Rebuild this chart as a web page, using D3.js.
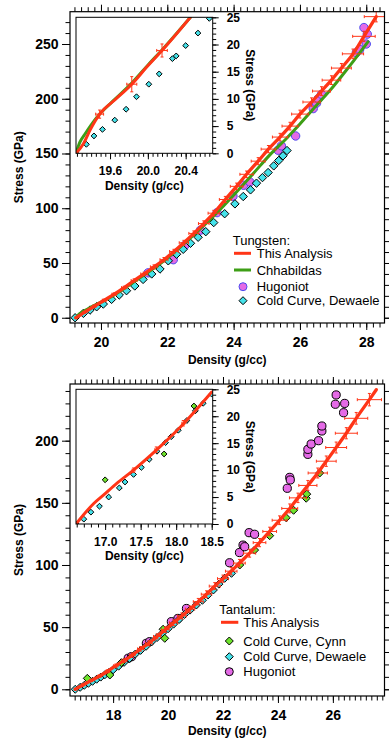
<!DOCTYPE html>
<html>
<head>
<meta charset="utf-8">
<script src="https://cdn.jsdelivr.net/npm/d3@7"></script>
<style>
  body { margin: 0; background: #fff; }
  svg { display: block; }
  text { font-family: "Liberation Sans", Arial, Helvetica, sans-serif; fill: #000; }
</style>
</head>
<body>
<svg id="chart" width="389" height="738"></svg>
<script>
// ---------- Tungsten (top panel) ----------
// [density, stress, density error, stress error]
const tungstenFit = [
  [19.25, 0, 0.03, 0.5], [19.5, 5, 0.04, 0.8], [19.8, 10.5, 0.05, 1], [20.1, 16, 0.06, 1],
  [20.4, 21.5, 0.07, 1.2], [20.7, 27.5, 0.08, 1.3], [21.0, 34, 0.09, 1.5], [21.3, 40, 0.1, 1.6],
  [21.6, 46.5, 0.11, 1.8], [21.9, 53, 0.12, 2], [22.2, 60.5, 0.13, 2], [22.5, 68.5, 0.14, 2.2],
  [22.8, 77, 0.15, 2.3], [23.1, 86, 0.16, 2.5], [23.4, 95.5, 0.17, 2.6], [23.75, 108, 0.18, 2.8],
  [24.09, 120, 0.19, 3], [24.39, 131, 0.2, 3], [24.74, 143, 0.21, 3.2], [25.05, 154, 0.22, 3.3],
  [25.4, 165, 0.23, 3.4], [25.7, 175, 0.24, 3.5], [26.0, 186, 0.25, 3.6], [26.35, 197, 0.26, 3.8],
  [26.65, 207, 0.27, 4], [26.95, 217, 0.28, 4], [27.25, 228, 0.3, 4.2], [27.6, 241, 0.32, 4.4],
  [27.93, 257, 0.34, 4.6], [28.3, 275, 0.36, 4.8]
];
const tungstenChhabildas = [
  [19.25, 0], [19.35, 3.5], [19.6, 8], [20.3, 19], [21.1, 35], [21.9, 52], [22.7, 73],
  [23.5, 96], [24.0, 112], [24.6, 132], [25.1, 149], [25.6, 164], [26.0, 177], [26.5, 194],
  [27.0, 211], [27.5, 230], [28.05, 252]
];
const tungstenHugoniot = [
  [21.42, 41], [22.18, 53], [22.53, 66], [23.0, 80], [23.5, 96], [23.98, 111], [24.3, 121],
  [24.49, 124], [25.34, 153], [25.44, 157], [25.87, 166], [26.4, 191], [26.5, 196], [26.55, 200],
  [26.65, 204], [27.7, 242], [27.8, 245], [28.0, 250], [28.03, 259], [27.93, 265]
];
const tungstenDewaele = [
  [19.22, 0], [19.47, 4], [19.67, 7], [19.87, 10], [20.07, 12.5], [20.32, 16.8], [20.55, 20.8],
  [20.77, 24.7], [21.02, 29], [21.27, 35], [21.53, 40], [21.78, 44.5], [22.03, 52], [22.28, 58],
  [22.48, 62.5], [22.7, 68], [22.93, 73.5], [23.16, 78.6], [23.4, 86.9], [23.73, 95], [24.04, 104],
  [24.29, 110.7], [24.51, 116.8], [24.69, 122.9], [24.87, 128], [25.04, 132.6], [25.21, 138.7],
  [25.36, 143.6], [25.49, 147.9], [25.61, 152.7]
];
const tungstenInsetFit = [
  [19.24, 0], [19.32, 1.8], [19.39, 4.3], [19.49, 7.2], [19.65, 9.8], [19.83, 12.7],
  [19.99, 15.9], [20.15, 18.9], [20.45, 25]
];
const tungstenInsetErr = [[19.49, 7.2, 0.042, 0.75], [19.83, 12.7, 0.053, 1.4], [20.15, 18.9, 0.056, 1.2]];
const tungstenInsetChhabildas = [
  [19.24, 0], [19.28, 2.0], [19.33, 3.4], [19.42, 5.7], [19.5, 7.4], [19.65, 9.9],
  [19.83, 12.9], [20.0, 16.2], [20.15, 19.0], [20.45, 25]
];
const tungstenInsetDewaele = [
  [19.24, 0], [19.35, 1.65], [19.43, 3.2], [19.52, 4.4], [19.65, 6.1], [19.77, 8.1], [19.88, 10.4],
  [20.01, 12.7], [20.12, 14.6], [20.26, 17.4], [20.3, 17.9], [20.4, 19.8], [20.53, 22.1], [20.65, 24.8]
];

// ---------- Tantalum (bottom panel) ----------
const tantalumFit = [
  [16.62, 0, 0.03, 0.5], [16.9, 3.5, 0.04, 0.7], [17.2, 7, 0.05, 0.9], [17.5, 10.5, 0.06, 1],
  [17.8, 14.5, 0.07, 1.2], [18.1, 19, 0.08, 1.3], [18.4, 23, 0.09, 1.5], [18.7, 27.5, 0.1, 1.6],
  [19.0, 32.5, 0.11, 1.8], [19.3, 37, 0.12, 2], [19.6, 42.5, 0.13, 2], [19.9, 48, 0.14, 2.2],
  [20.2, 53.5, 0.15, 2.3], [20.5, 59, 0.16, 2.4], [20.8, 64.5, 0.17, 2.5], [21.1, 70.5, 0.18, 2.6],
  [21.4, 76.5, 0.19, 2.7], [21.7, 83, 0.2, 2.8], [22.0, 89, 0.2, 2.9], [22.3, 95, 0.21, 3],
  [22.6, 101.5, 0.21, 3], [22.97, 109.5, 0.22, 3.2], [23.33, 118, 0.23, 3.3], [23.7, 127, 0.25, 3.4],
  [24.06, 136, 0.27, 3.5], [24.43, 145.5, 0.29, 3.6], [24.73, 154, 0.31, 3.8], [25.09, 164, 0.33, 4],
  [25.45, 174, 0.35, 4], [25.76, 183.5, 0.36, 4.2], [26.12, 194.5, 0.38, 4.4], [26.49, 206, 0.4, 4.5],
  [26.85, 218, 0.42, 4.7], [27.33, 233, 0.44, 5], [27.58, 241, 0, 0]
];
const tantalumCynn = [
  [17.06, 8.8], [17.88, 11.5], [18.3, 21.4], [19.82, 48.3], [19.88, 41], [22.61, 100],
  [23.15, 112], [23.7, 123.6], [24.3, 138], [24.57, 144], [25.03, 153.7], [25.05, 157], [25.52, 174]
];
const tantalumDewaele = [
  [16.62, 0], [16.8, 1.6], [16.95, 3.2], [17.1, 4.8], [17.25, 6.4], [17.4, 8.1], [17.55, 9.8],
  [17.7, 11.7], [17.85, 13.6], [18.0, 15.7], [18.2, 18.6], [18.4, 21.7], [18.6, 24.8], [18.8, 28.2],
  [19.0, 31.3], [19.2, 34.6], [19.4, 38.2], [19.6, 41.6], [19.8, 45.3], [20.0, 48.7], [20.2, 52.4],
  [20.4, 56.1], [20.6, 60.2], [20.8, 63.7], [21.03, 67.8], [21.25, 71.6], [21.45, 75.8],
  [21.65, 79.9], [21.85, 84.6], [22.06, 89.3], [22.31, 93.3]
];
const tantalumHugoniot = [
  [18.55, 25], [18.67, 26.2], [19.21, 37], [19.33, 38.3], [20.12, 54.4], [20.36, 57], [20.67, 65],
  [22.24, 101.8], [22.6, 110], [22.73, 116], [22.79, 114.7], [22.95, 126], [23.15, 124.7],
  [24.34, 161.7], [24.43, 170.5], [24.45, 168.4], [25.09, 189], [25.09, 193], [25.21, 197.3],
  [25.48, 200], [25.6, 207.8], [25.6, 211.8], [26.09, 229.3], [26.12, 236.8], [26.39, 222.5], [26.43, 230]
];
const tantalumInsetFit = [
  [16.59, 0], [16.84, 3.8], [16.98, 5.4], [17.16, 7.5], [17.4, 10], [17.77, 14.3], [18.06, 18], [18.5, 24.5]
];
const tantalumInsetErr = [[17.4, 10, 0.02, 0.4], [17.72, 13.8, 0.02, 0.5], [18.1, 18.7, 0.02, 0.5]];
const tantalumInsetCynn = [[17.0, 8.2], [17.83, 13.0], [18.25, 21.9]];
const tantalumInsetDewaele = [
  [16.59, 0], [16.7, 0.9], [16.8, 2.2], [16.92, 3.3], [17.05, 5.0], [17.2, 6.7], [17.28, 7.8],
  [17.4, 9.2], [17.51, 10.5], [17.62, 12.0], [17.73, 13.5], [17.85, 15.1], [17.93, 16.2],
  [18.03, 17.4], [18.15, 19.2], [18.27, 21.0], [18.38, 22.4], [18.5, 24.1]
];

// tick labels
const tungstenXTicks = [20, 22, 24, 26, 28];
const tungstenYTicks = [0, 50, 100, 150, 200, 250];
const tungstenInsetXTicks = [19.6, 20.0, 20.4];
const tantalumXTicks = [18, 20, 22, 24, 26];
const tantalumYTicks = [0, 50, 100, 150, 200];
const tantalumInsetXTicks = [17.0, 17.5, 18.0, 18.5];
const insetYTicks = [0, 5, 10, 15, 20, 25];

const RED = '#ff3517', GREEN = '#3d9e16', CYAN = '#45e2ea', MAGENTA = '#e46ae6', LIME = '#6ee42c';

const svg = d3.select('#chart');
let clipId = 0;

function diamond(h) { return `M0,${-h}L${h},0L0,${h}L${-h},0Z`; }

function steps(lo, hi, step) {
  return d3.range(Math.ceil(lo / step - 1e-9), Math.floor(hi / step + 1e-9) + 1).map(i => +(i * step).toFixed(4));
}

function addAxis(parent, orient, scale, pos, majors, minors, majLen, minLen, pad, fontSize, fmt) {
  const make = { bottom: d3.axisBottom, top: d3.axisTop, left: d3.axisLeft, right: d3.axisRight }[orient];
  const tr = (orient === 'bottom' || orient === 'top') ? `translate(0,${pos})` : `translate(${pos},0)`;
  const gMin = parent.append('g').attr('transform', tr)
    .call(make(scale).tickValues(minors).tickSize(minLen).tickSizeOuter(0).tickFormat(''));
  const gMaj = parent.append('g').attr('transform', tr)
    .call(make(scale).tickValues(majors).tickSize(majLen).tickSizeOuter(0).tickPadding(pad).tickFormat(fmt || ''));
  [gMin, gMaj].forEach(g => {
    g.select('.domain').remove();
    g.selectAll('line').attr('stroke', '#000').attr('stroke-width', 1);
  });
  gMaj.selectAll('text').attr('font-size', fontSize).attr('font-weight', 'bold').attr('fill', '#000');
}

function drawLayers(g, x, y, layers) {
  const id = 'clip' + (clipId++);
  const [x0, x1] = x.range(), [y0, y1] = y.range();
  g.append('clipPath').attr('id', id).append('rect')
    .attr('x', x0).attr('y', y1).attr('width', x1 - x0).attr('height', y0 - y1);
  const c = g.append('g').attr('clip-path', `url(#${id})`);
  layers.forEach(l => {
    if (l.type === 'line') {
      c.append('path').datum(l.data)
        .attr('d', d3.line().x(d => x(d[0])).y(d => y(d[1])).curve(d3.curveMonotoneX))
        .attr('fill', 'none').attr('stroke', l.color).attr('stroke-width', l.width)
        .attr('stroke-linecap', 'round').attr('stroke-linejoin', 'round');
    } else if (l.type === 'err') {
      const e = c.append('g').attr('stroke', RED).attr('stroke-width', 1).attr('fill', 'none');
      l.data.filter(d => d[2] > 0).forEach(d => {
        const cx = x(d[0]), cy = y(d[1]);
        const xa = x(d[0] - d[2]), xb = x(d[0] + d[2]);
        const ya = y(d[1] - d[3]), yb = y(d[1] + d[3]);
        e.append('path').attr('d',
          `M${xa},${cy}H${xb}M${xa},${cy - 1.5}V${cy + 1.5}M${xb},${cy - 1.5}V${cy + 1.5}` +
          `M${cx},${ya}V${yb}M${cx - 1.5},${ya}H${cx + 1.5}M${cx - 1.5},${yb}H${cx + 1.5}`);
      });
    } else if (l.type === 'circle') {
      c.selectAll(null).data(l.data).enter().append('circle')
        .attr('cx', d => x(d[0])).attr('cy', d => y(d[1])).attr('r', l.size)
        .attr('fill', l.fill).attr('stroke', l.stroke).attr('stroke-width', 1);
    } else if (l.type === 'diamond') {
      c.selectAll(null).data(l.data).enter().append('path')
        .attr('transform', d => `translate(${x(d[0])},${y(d[1])})`)
        .attr('d', diamond(l.size))
        .attr('fill', l.fill).attr('stroke', '#000').attr('stroke-width', 1);
    }
  });
}

function drawPanel(p) {
  const g = svg.append('g');
  const L = 70, R = 384.5;
  const x = d3.scaleLinear().domain(p.xDomain).range([L, R]);
  const y = d3.scaleLinear().domain(p.yDomain).range([p.bottom, p.top]);
  const xMinor = steps(p.xDomain[0], p.xDomain[1], 0.2);
  const yMinor = steps(p.yDomain[0], p.yDomain[1], 10);

  addAxis(g, 'bottom', x, p.bottom, p.xTicks, xMinor, 7, 4.5, 7, 14, d3.format('d'));
  addAxis(g, 'top', x, p.top, p.xTicks, xMinor, 7, 4.5, 3, 14, '');
  addAxis(g, 'left', y, L, p.yTicks, yMinor, 8, 4.5, 3.5, 14, d3.format('d'));
  addAxis(g, 'right', y, R, p.yTicks, yMinor, 8, 4.5, 3, 14, '');

  drawLayers(g, x, y, p.layers);

  g.append('rect').attr('x', L).attr('y', p.top).attr('width', R - L).attr('height', p.bottom - p.top)
    .attr('fill', 'none').attr('stroke', '#000').attr('stroke-width', 1.2);

  g.append('text').attr('x', (L + R) / 2).attr('y', p.bottom + p.titleGap)
    .attr('text-anchor', 'middle').attr('font-size', 12).attr('font-weight', 'bold').text('Density (g/cc)');
  g.append('text').attr('transform', `translate(22.5,${(p.top + p.bottom) / 2}) rotate(-90)`)
    .attr('text-anchor', 'middle').attr('font-size', 12).attr('font-weight', 'bold').text('Stress (GPa)');

  // inset
  const ins = p.inset;
  const ix = d3.scaleLinear().domain(ins.xDomain).range([76, 212.7]);
  const iy = d3.scaleLinear().domain([0, 25]).range([ins.bottom, ins.top]);
  const ig = g.append('g');
  ig.append('rect').attr('x', 76).attr('y', ins.top).attr('width', 212.7 - 76).attr('height', ins.bottom - ins.top)
    .attr('fill', '#fff');
  addAxis(ig, 'bottom', ix, ins.bottom, ins.xTicks, steps(ins.xDomain[0], ins.xDomain[1], ins.xMinor), 6, 3.5, 7, 12, d3.format('.1f'));
  addAxis(ig, 'right', iy, 212.7, insetYTicks, steps(0, 25, 1), 6, 3.5, 8, 12, d3.format('d'));
  drawLayers(ig, ix, iy, ins.layers);
  ig.append('rect').attr('x', 76).attr('y', ins.top).attr('width', 212.7 - 76).attr('height', ins.bottom - ins.top)
    .attr('fill', 'none').attr('stroke', '#000').attr('stroke-width', 1);
  ig.append('text').attr('x', 144.3).attr('y', ins.bottom + 36.2)
    .attr('text-anchor', 'middle').attr('font-size', 12).attr('font-weight', 'bold').text('Density (g/cc)');
  ig.append('text').attr('transform', `translate(246,${(ins.top + ins.bottom) / 2}) rotate(90)`)
    .attr('text-anchor', 'middle').attr('font-size', 12).attr('font-weight', 'bold').text('Stress (GPa)');

  // legend
  const lg = g.append('g');
  const lgd = p.legend;
  lg.append('text').attr('x', lgd.x).attr('y', lgd.titleY + 4.6).attr('font-size', 13).text(lgd.title);
  lgd.items.forEach(it => {
    const cy = it.y;
    if (it.kind === 'line') {
      lg.append('line').attr('x1', lgd.lineX[0]).attr('x2', lgd.lineX[1]).attr('y1', cy).attr('y2', cy)
        .attr('stroke', it.color).attr('stroke-width', 3);
    } else if (it.kind === 'circle') {
      lg.append('circle').attr('cx', lgd.markX).attr('cy', cy).attr('r', 4)
        .attr('fill', it.fill).attr('stroke', it.stroke).attr('stroke-width', 1);
    } else {
      lg.append('path').attr('transform', `translate(${lgd.markX},${cy})`).attr('d', diamond(4))
        .attr('fill', it.fill).attr('stroke', '#000').attr('stroke-width', 1);
    }
    lg.append('text').attr('x', lgd.textX).attr('y', cy + 4.6).attr('font-size', 13).text(it.label);
  });
}

drawPanel({
  xDomain: [19.066, 28.55], yDomain: [-4.8, 279.5], top: 11.7, bottom: 323, titleGap: 40.5,
  xTicks: tungstenXTicks, yTicks: tungstenYTicks,
  layers: [
    { type: 'circle', data: tungstenHugoniot, size: 4.2, fill: MAGENTA, stroke: '#4b4bf0' },
    { type: 'diamond', data: tungstenDewaele, size: 4.2, fill: CYAN },
    { type: 'line', data: tungstenChhabildas, color: GREEN, width: 3 },
    { type: 'line', data: tungstenFit, color: RED, width: 3.3 },
    { type: 'err', data: tungstenFit }
  ],
  inset: {
    xDomain: [19.24, 20.686], top: 17.3, bottom: 153.3, xTicks: tungstenInsetXTicks, xMinor: 0.05,
    layers: [
      { type: 'diamond', data: tungstenInsetDewaele, size: 2.9, fill: CYAN },
      { type: 'line', data: tungstenInsetChhabildas, color: GREEN, width: 3 },
      { type: 'line', data: tungstenInsetFit, color: RED, width: 3 },
      { type: 'err', data: tungstenInsetErr }
    ]
  },
  legend: {
    title: 'Tungsten:', x: 232.7, titleY: 240, lineX: [234, 251], markX: 243, textX: 256.7,
    items: [
      { kind: 'line', color: RED, label: 'This Analysis', y: 253.3 },
      { kind: 'line', color: GREEN, label: 'Chhabildas', y: 270 },
      { kind: 'circle', fill: MAGENTA, stroke: '#4b4bf0', label: 'Hugoniot', y: 286.7 },
      { kind: 'diamond', fill: CYAN, label: 'Cold Curve, Dewaele', y: 300.7 }
    ]
  }
});

drawPanel({
  xDomain: [16.43, 27.88], yDomain: [-5.4, 245.6], top: 384, bottom: 696, titleGap: 38.5,
  xTicks: tantalumXTicks, yTicks: tantalumYTicks,
  layers: [
    { type: 'circle', data: tantalumHugoniot, size: 4.1, fill: MAGENTA, stroke: '#000' },
    { type: 'diamond', data: tantalumDewaele, size: 4, fill: CYAN },
    { type: 'diamond', data: tantalumCynn, size: 4, fill: LIME },
    { type: 'line', data: tantalumFit, color: RED, width: 3.3 },
    { type: 'err', data: tantalumFit }
  ],
  inset: {
    xDomain: [16.59, 18.514], top: 389.3, bottom: 524, xTicks: tantalumInsetXTicks, xMinor: 0.1,
    layers: [
      { type: 'diamond', data: tantalumInsetDewaele, size: 2.9, fill: CYAN },
      { type: 'diamond', data: tantalumInsetCynn, size: 2.9, fill: LIME },
      { type: 'line', data: tantalumInsetFit, color: RED, width: 3 },
      { type: 'err', data: tantalumInsetErr }
    ]
  },
  legend: {
    title: 'Tantalum:', x: 219.3, titleY: 609.3, lineX: [221, 238.3], markX: 229.3, textX: 243.3,
    items: [
      { kind: 'line', color: RED, label: 'This Analysis', y: 622.3 },
      { kind: 'diamond', fill: LIME, label: 'Cold Curve, Cynn', y: 641 },
      { kind: 'diamond', fill: CYAN, label: 'Cold Curve, Dewaele', y: 656.7 },
      { kind: 'circle', fill: MAGENTA, stroke: '#000', label: 'Hugoniot', y: 671.7 }
    ]
  }
});
</script>
</body>
</html>
